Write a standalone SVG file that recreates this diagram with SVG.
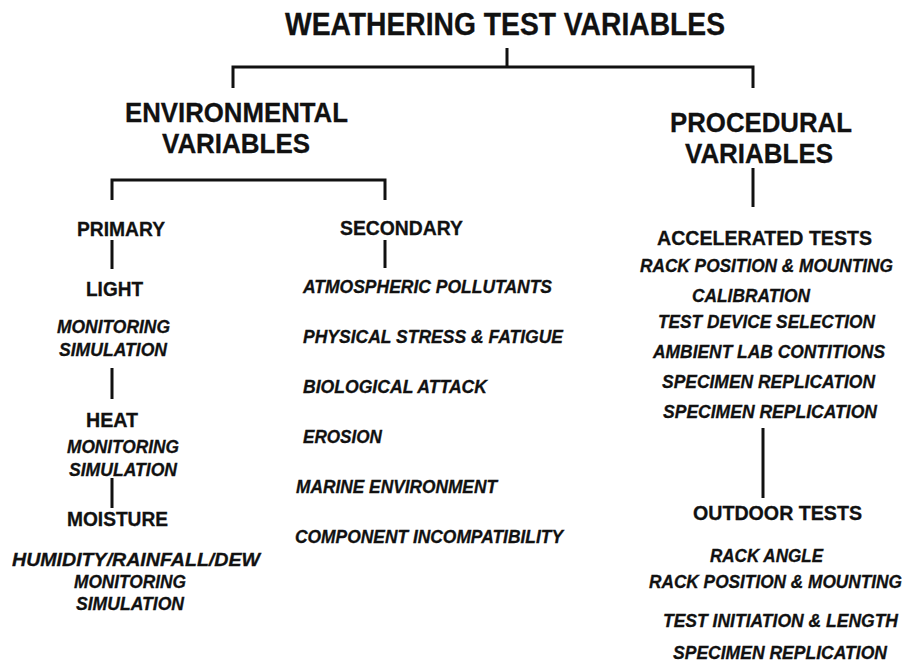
<svg xmlns="http://www.w3.org/2000/svg" width="904" height="663" viewBox="0 0 904 663">
<style>
text{font-family:"Liberation Sans",Arial,sans-serif;font-weight:bold;fill:#111;stroke:#111;stroke-width:0.3}
.t{font-size:31px}
.h{font-size:28px}
.m{font-size:20px}
.i{font-size:17.5px;font-style:italic}
.c{stroke:#111;stroke-width:3;fill:none}
</style>
<rect width="904" height="663" fill="#fff"/>
<g id="connectors">
<path class="c" d="M507,48V67M233,88V67H753V88"/>
<path class="c" d="M753,168V207"/>
<path class="c" d="M112,200V180H385V200"/>
<path class="c" d="M112,240V269M112,368V399M112,478V508"/>
<path class="c" d="M385,240V268"/>
<path class="c" d="M763,428V498"/>
</g>
<g id="title"><text class="t" x="285" y="35" textLength="440" lengthAdjust="spacingAndGlyphs">WEATHERING TEST VARIABLES</text></g>
<g id="environmental">
<text class="h" x="125" y="122" textLength="223" lengthAdjust="spacingAndGlyphs">ENVIRONMENTAL</text>
<text class="h" x="162" y="153" textLength="148" lengthAdjust="spacingAndGlyphs">VARIABLES</text>
</g>
<g id="procedural">
<text class="h" x="670" y="132" textLength="182" lengthAdjust="spacingAndGlyphs">PROCEDURAL</text>
<text class="h" x="685" y="163" textLength="148" lengthAdjust="spacingAndGlyphs">VARIABLES</text>
</g>
<g id="primary"><text class="m" x="77" y="236" textLength="88" lengthAdjust="spacingAndGlyphs">PRIMARY</text></g>
<g id="light">
<text class="m" x="86" y="296" textLength="57" lengthAdjust="spacingAndGlyphs">LIGHT</text>
<text class="i" x="57" y="333" textLength="113" lengthAdjust="spacingAndGlyphs">MONITORING</text>
<text class="i" x="59" y="356" textLength="108" lengthAdjust="spacingAndGlyphs">SIMULATION</text>
</g>
<g id="heat">
<text class="m" x="86" y="427" textLength="52" lengthAdjust="spacingAndGlyphs">HEAT</text>
<text class="i" x="67" y="453" textLength="112" lengthAdjust="spacingAndGlyphs">MONITORING</text>
<text class="i" x="69" y="476" textLength="108" lengthAdjust="spacingAndGlyphs">SIMULATION</text>
</g>
<g id="moisture">
<text class="m" x="67" y="526" textLength="101" lengthAdjust="spacingAndGlyphs">MOISTURE</text>
<text class="i" x="12" y="566" textLength="248" lengthAdjust="spacingAndGlyphs">HUMIDITY/RAINFALL/DEW</text>
<text class="i" x="74" y="588" textLength="112" lengthAdjust="spacingAndGlyphs">MONITORING</text>
<text class="i" x="76" y="610" textLength="108" lengthAdjust="spacingAndGlyphs">SIMULATION</text>
</g>
<g id="secondary">
<text class="m" x="340" y="235" textLength="123" lengthAdjust="spacingAndGlyphs">SECONDARY</text>
<text class="i" x="303" y="293" textLength="249" lengthAdjust="spacingAndGlyphs">ATMOSPHERIC POLLUTANTS</text>
<text class="i" x="303" y="343" textLength="260" lengthAdjust="spacingAndGlyphs">PHYSICAL STRESS &amp; FATIGUE</text>
<text class="i" x="303" y="393" textLength="184" lengthAdjust="spacingAndGlyphs">BIOLOGICAL ATTACK</text>
<text class="i" x="303" y="443" textLength="79" lengthAdjust="spacingAndGlyphs">EROSION</text>
<text class="i" x="296" y="493" textLength="201" lengthAdjust="spacingAndGlyphs">MARINE ENVIRONMENT</text>
<text class="i" x="295" y="543" textLength="268" lengthAdjust="spacingAndGlyphs">COMPONENT INCOMPATIBILITY</text>
</g>
<g id="accelerated">
<text class="m" x="657" y="245" textLength="215" lengthAdjust="spacingAndGlyphs">ACCELERATED TESTS</text>
<text class="i" x="640" y="272" textLength="253" lengthAdjust="spacingAndGlyphs">RACK POSITION &amp; MOUNTING</text>
<text class="i" x="692" y="302" textLength="118" lengthAdjust="spacingAndGlyphs">CALIBRATION</text>
<text class="i" x="658" y="328" textLength="217" lengthAdjust="spacingAndGlyphs">TEST DEVICE SELECTION</text>
<text class="i" x="653" y="358" textLength="232" lengthAdjust="spacingAndGlyphs">AMBIENT LAB CONTITIONS</text>
<text class="i" x="662" y="388" textLength="213" lengthAdjust="spacingAndGlyphs">SPECIMEN REPLICATION</text>
<text class="i" x="663" y="418" textLength="214" lengthAdjust="spacingAndGlyphs">SPECIMEN REPLICATION</text>
</g>
<g id="outdoor">
<text class="m" x="693" y="520" textLength="169" lengthAdjust="spacingAndGlyphs">OUTDOOR TESTS</text>
<text class="i" x="710" y="562" textLength="113" lengthAdjust="spacingAndGlyphs">RACK ANGLE</text>
<text class="i" x="649" y="588" textLength="253" lengthAdjust="spacingAndGlyphs">RACK POSITION &amp; MOUNTING</text>
<text class="i" x="663" y="627" textLength="235" lengthAdjust="spacingAndGlyphs">TEST INITIATION &amp; LENGTH</text>
<text class="i" x="673" y="659" textLength="214" lengthAdjust="spacingAndGlyphs">SPECIMEN REPLICATION</text>
</g>
</svg>
